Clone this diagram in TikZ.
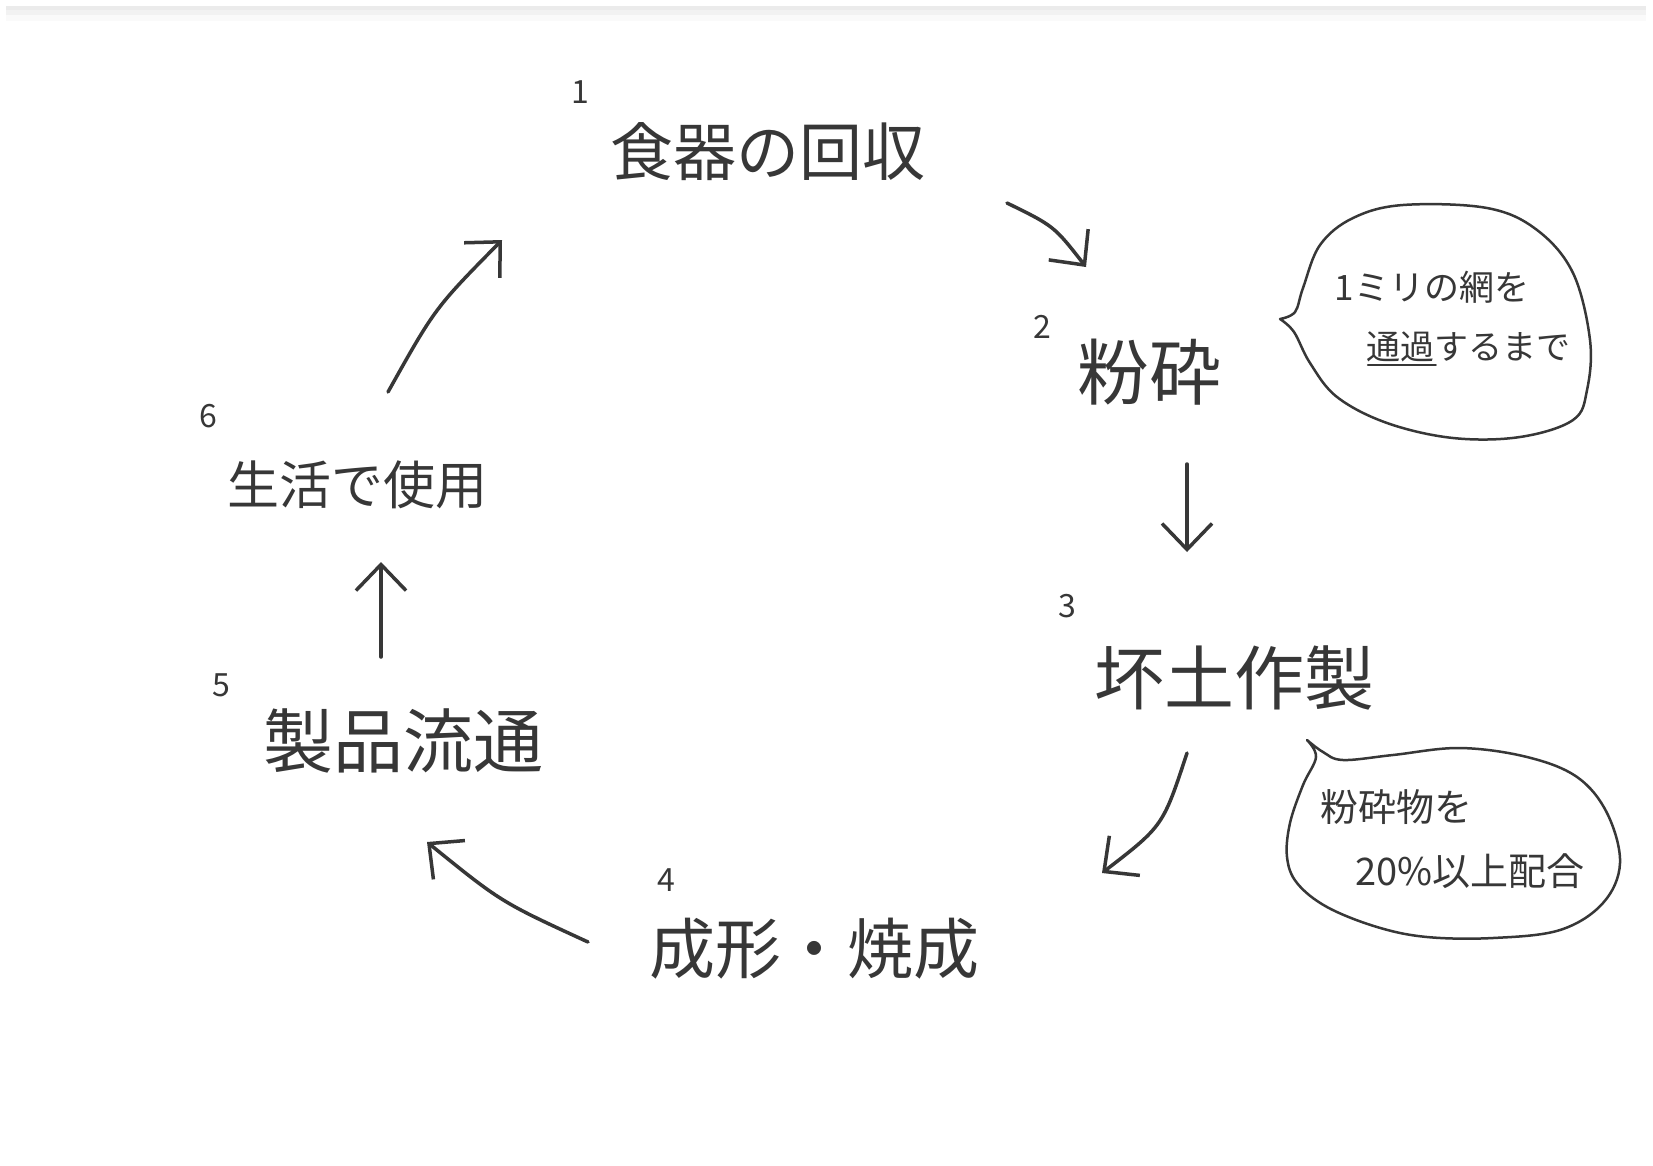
\documentclass[tikz,border=0pt]{standalone}
\usepackage{fontspec}
\setmainfont{Noto Sans CJK JP}
\usetikzlibrary{arrows.meta}
\definecolor{ink}{RGB}{55,55,55}
\tikzset{
  lbl/.style={text=ink, inner sep=0pt},
  num/.style={text=ink, inner sep=0pt, font=\fontsize{32}{32}\selectfont},
  flow/.style={draw=ink, line width=3.5pt, line cap=round,
    -{Straight Barb[length=26pt,width=50pt,line width=3.5pt]}},
  bubble/.style={draw=ink, line width=2.5pt, line join=round, line cap=round},
  note/.style={text=ink, inner sep=0pt}
}
\begin{document}
\begin{tikzpicture}[x=1pt,y=-1pt]
\useasboundingbox (0,0) rectangle (1653,1165);
\fill[white] (0,0) rectangle (1653,1165);
\fill[black!8] (6,6) rectangle (1646,10);
\fill[black!5] (6,10) rectangle (1646,15);
\fill[black!2] (6,15) rectangle (1646,21);

% step labels
\node[num] (n1) at (580,92) {1};
\node[lbl, font=\fontsize{63}{63}\selectfont] (s1) at (768,152) {食器の回収};
\node[num] (n2) at (1042,327) {2};
\node[lbl, font=\fontsize{72}{72}\selectfont] (s2) at (1149,372) {粉砕};
\node[num] (n3) at (1067,606) {3};
\node[lbl, font=\fontsize{70}{70}\selectfont] (s3) at (1234,678) {坏土作製};
\node[num] (n4) at (666,880) {4};
\node[lbl, font=\fontsize{66}{66}\selectfont] (s4) at (814,949) {成形・焼成};
\node[num] (n5) at (221,685) {5};
\node[lbl, font=\fontsize{70}{70}\selectfont] (s5) at (403,741) {製品流通};
\node[num] (n6) at (208,416) {6};
\node[lbl, font=\fontsize{52}{52}\selectfont] (s6) at (357,485) {生活で使用};

% arrow end points
\coordinate (a12s) at (1007,203); \coordinate (a12e) at (1086,267);
\coordinate (a23s) at (1187,464); \coordinate (a23e) at (1187,552);
\coordinate (a34s) at (1187,753); \coordinate (a34e) at (1102,873);
\coordinate (a45s) at (588,942);  \coordinate (a45e) at (427,842);
\coordinate (a56s) at (381,657);  \coordinate (a56e) at (381,562);
\coordinate (a61s) at (388,392);  \coordinate (a61e) at (502,240);

\draw[flow] (a12s) .. controls (1054,226) .. (a12e);
\draw[flow] (a23s) -- (a23e);
\draw[flow] (a34s) .. controls (1163,826) .. (a34e);
\draw[flow] (a45s) .. controls (501,902) .. (a45e);
\draw[flow] (a56s) -- (a56e);
\draw[flow] (a61s) .. controls (435,308) .. (a61e);

% callout 1
\draw[bubble] plot[smooth, tension=0.6] coordinates {(1280,319) (1295,312) (1303,288) (1320,245) (1353,218) (1403,205) (1487,208) (1537,230) (1573,273) (1590,340) (1587,390) (1573,420) (1520,437) (1453,438) (1387,423) (1337,397) (1310,363) (1294,332) (1280,319)};
\node[note, font=\fontsize{35}{35}\selectfont] (c1a) at (1432,287) {1ミリの網を};
\node[note, font=\fontsize{34}{34}\selectfont] (c1b) at (1468,347) {通過するまで};
\draw[draw=ink, line width=2pt, line cap=round] ([xshift=2pt,yshift=-3pt]c1b.south west) -- ([xshift=70pt,yshift=-3pt]c1b.south west);

% callout 2
\draw[bubble] plot[smooth, tension=0.6] coordinates {(1307,740) (1316,757) (1303,785) (1290,823) (1287,857) (1297,883) (1327,907) (1377,927) (1427,937) (1493,938) (1560,930) (1603,903) (1620,863) (1607,813) (1577,777) (1527,757) (1460,748) (1393,755) (1343,760) (1323,752) (1307,740)};
\node[note, font=\fontsize{38}{38}\selectfont] (c2a) at (1396,807) {粉砕物を};
\node[note, font=\fontsize{38}{38}\selectfont] (c2b) at (1470,871) {20\%以上配合};
\end{tikzpicture}
\end{document}
